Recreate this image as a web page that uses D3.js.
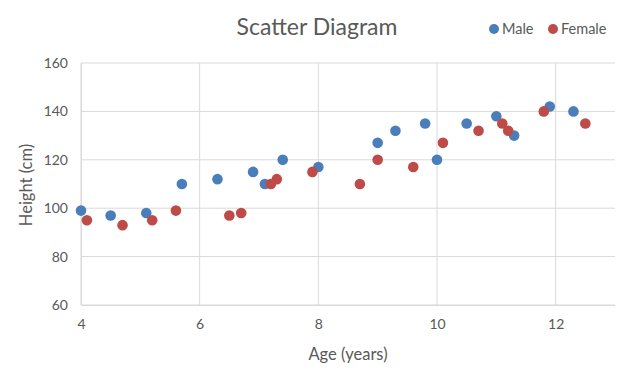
<!DOCTYPE html>
<html><head><meta charset="utf-8">
<script src="https://cdn.jsdelivr.net/npm/d3@7"></script>
<style>body{margin:0;background:#fff}svg{display:block;font-family:Lato,"Open Sans",sans-serif}</style>
</head><body><svg id="c" width="640" height="380"></svg>
<script>
const maleAge = [4.0,4.5,5.1,5.7,6.3,6.9,7.1,7.4,8.0,9.0,9.3,9.8,10.0,10.5,11.0,11.3,11.9,12.3];
const maleHeight = [99,97,98,110,112,115,110,120,117,127,132,135,120,135,138,130,142,140];
const femaleAge = [4.1,4.7,5.2,5.6,6.5,6.7,7.2,7.3,7.9,8.7,9.0,9.6,10.1,10.7,11.1,11.2,11.8,12.5];
const femaleHeight = [95,93,95,99,97,98,110,112,115,110,120,117,127,132,135,132,140,135];
const xTicks = [4,6,8,10,12];
const yTicks = [60,80,100,120,140,160];
const seriesNames = ["Male","Female"];
const colors = ["#4a7ebb","#be4b48"];

const svg = d3.select("#c");
const x = d3.scaleLinear().domain([4,13]).range([81,615]);
const y = d3.scaleLinear().domain([60,160]).range([305,63]);
const grid = "#d9d9d9", txt = "#595959";

// gridlines
svg.append("g").selectAll("line").data(yTicks).join("line")
  .attr("x1",x(4)).attr("x2",x(13)).attr("y1",d=>y(d)).attr("y2",d=>y(d))
  .attr("stroke",grid).attr("stroke-width",1);
svg.append("g").selectAll("line").data(xTicks).join("line")
  .attr("x1",d=>x(d)).attr("x2",d=>x(d)).attr("y1",y(60)).attr("y2",y(160))
  .attr("stroke",grid).attr("stroke-width",1);

// axes
const xa = svg.append("g").attr("transform",`translate(0,${y(60)})`)
  .call(d3.axisBottom(x).tickValues(xTicks).tickSize(0).tickPadding(14).tickFormat(d3.format("d")));
const ya = svg.append("g").attr("transform",`translate(${x(4)},0)`)
  .call(d3.axisLeft(y).tickValues(yTicks).tickSize(0).tickPadding(13).tickFormat(d3.format("d")));
[xa,ya].forEach(a=>{a.select(".domain").attr("stroke",grid);
  a.selectAll("text").attr("fill",txt).style("font-size","14px").style("font-family","Lato,'Open Sans',sans-serif");});

// points
const data = [
  maleAge.map((a,i)=>({a,h:maleHeight[i]})),
  femaleAge.map((a,i)=>({a,h:femaleHeight[i]}))
];
data.forEach((s,k)=>{
  svg.append("g").selectAll("circle").data(s).join("circle")
    .attr("cx",d=>x(d.a)).attr("cy",d=>y(d.h)).attr("r",5.3).attr("fill",colors[k]);
});

// title
svg.append("text").attr("x",317).attr("y",35).attr("text-anchor","middle")
  .attr("fill",txt).style("font-size","23px").text("Scatter Diagram");

// legend
const lx = [494,553];
seriesNames.forEach((n,i)=>{
  svg.append("circle").attr("cx",lx[i]).attr("cy",29).attr("r",5).attr("fill",colors[i]);
  svg.append("text").attr("x",lx[i]+8).attr("y",34).attr("fill",txt).style("font-size","14.5px").text(n);
});

// axis titles
svg.append("text").attr("x",348).attr("y",360).attr("text-anchor","middle")
  .attr("fill",txt).style("font-size","16.5px").text("Age (years)");
svg.append("text").attr("transform","translate(32,185) rotate(-90)").attr("text-anchor","middle")
  .attr("fill",txt).style("font-size","16.5px").text("Height (cm)");
</script></body></html>
